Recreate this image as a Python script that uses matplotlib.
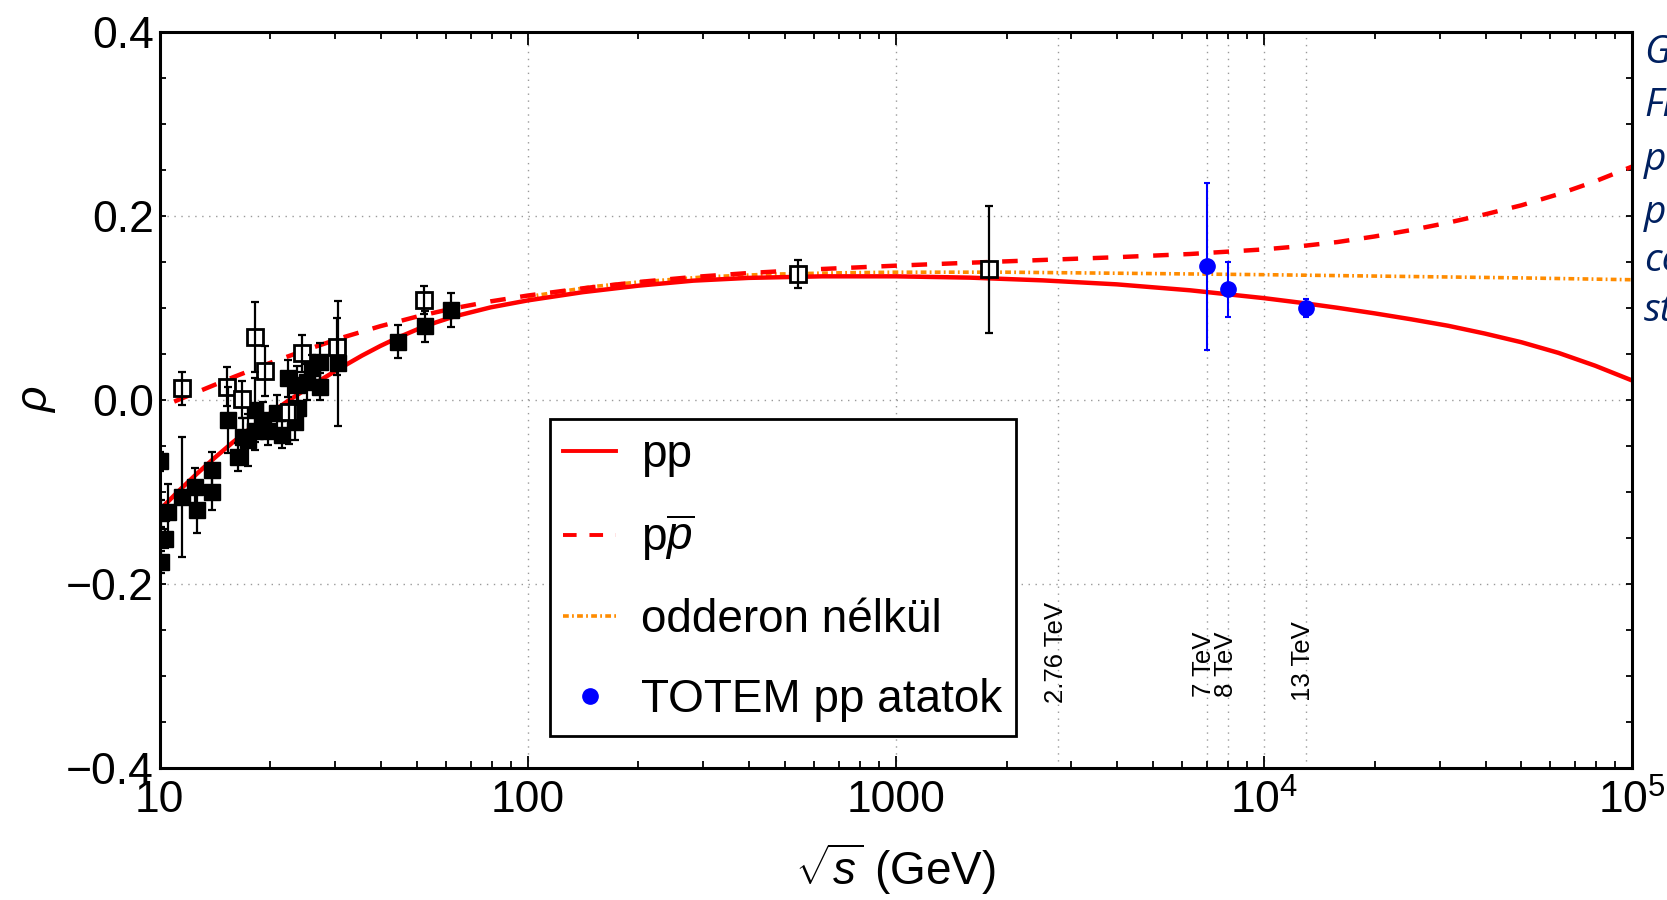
import matplotlib
matplotlib.use("Agg")
import matplotlib.pyplot as plt
from matplotlib.ticker import FixedLocator, FixedFormatter, MultipleLocator
from matplotlib.lines import Line2D

plt.rcParams['font.family'] = ['Liberation Sans', 'DejaVu Sans']
plt.rcParams['mathtext.fontset'] = 'custom'
plt.rcParams['mathtext.rm'] = 'Liberation Sans'
plt.rcParams['mathtext.it'] = 'Liberation Sans:italic'
plt.rcParams['mathtext.bf'] = 'Liberation Sans:bold'

# ---- model curves (sqrt(s) in GeV, rho) ----
pp_x = [10, 11.22, 12.59, 14.13, 15.85, 17.78, 19.95, 22.39, 25.12, 28.18, 31.62, 35.48,
        39.81, 44.67, 50.12, 56.23, 63.1, 79.43, 100, 141.3, 199.5, 281.8, 398.1, 631,
        1000, 1585, 2512, 3981, 6310, 10000, 12590, 15850, 19950, 25120, 31620, 39810,
        50120, 63100, 79430, 100000]
pp_y = [-0.120, -0.100, -0.081, -0.063, -0.046, -0.030, -0.015, -0.001, 0.012, 0.0245,
        0.0365, 0.048, 0.0585, 0.068, 0.0765, 0.084, 0.0905, 0.1005, 0.108, 0.117, 0.124,
        0.1295, 0.1325, 0.1342, 0.1342, 0.1328, 0.1298, 0.1255, 0.119, 0.1105, 0.1055,
        0.100, 0.094, 0.0875, 0.0805, 0.072, 0.0625, 0.051, 0.037, 0.021]

pbar_x = [10.96, 12.59, 15.85, 19.95, 25.12, 31.62, 39.81, 50.12, 63.1, 79.43, 100, 141.3,
          199.5, 281.8, 398.1, 631, 1000, 1585, 2512, 3981, 6310, 10000, 12590, 15850,
          19950, 25120, 31620, 39810, 50120, 63100, 79430, 100000]
pbar_y = [-0.002, 0.008, 0.0245, 0.040, 0.0545, 0.068, 0.080, 0.0905, 0.0995, 0.107,
          0.1133, 0.1212, 0.128, 0.1335, 0.1378, 0.1422, 0.1458, 0.149, 0.152, 0.155,
          0.1585, 0.1635, 0.167, 0.1715, 0.1775, 0.1845, 0.1925, 0.2015, 0.2115, 0.2235,
          0.2375, 0.2535]

nood_x = [100, 120, 150, 200, 300, 450, 700, 1000, 2000, 5000, 10000, 20000, 50000, 100000]
nood_y = [0.112, 0.117, 0.123, 0.128, 0.1335, 0.1365, 0.138, 0.1387, 0.1387, 0.1372,
          0.1360, 0.1345, 0.1325, 0.1305]

# ---- measured data ----
pp_dx = [10.0, 10.1, 10.35, 10.1, 10.57, 11.49, 12.48, 12.62, 13.86, 13.86, 15.38, 16.37,
         16.89, 17.43, 18.17, 18.17, 19.12, 19.72, 20.8, 21.48, 22.38, 23.33, 23.58, 23.8,
         25.1, 25.9, 27.3, 27.3, 30.6, 44.55, 52.6, 62.1]
pp_dy = [-0.067, -0.1235, -0.151, -0.176, -0.122, -0.1055, -0.0945, -0.120, -0.0764, -0.100,
         -0.022, -0.062, -0.040, -0.044, -0.011, -0.0345, -0.022, -0.0345, -0.0146, -0.038,
         0.0235, -0.0237, 0.0164, -0.0093, 0.0193, 0.034, 0.0414, 0.0142, 0.0395, 0.063,
         0.080, 0.0976]
pp_de = [0.010, 0.015, 0.010, 0.012, 0.030, 0.065, 0.020, 0.025, 0.020, 0.020, 0.036, 0.015,
         0.020, 0.028, 0.035, 0.020, 0.020, 0.015, 0.020, 0.015, 0.020, 0.020, 0.020, 0.020,
         0.020, 0.015, 0.020, 0.015, 0.068, 0.018, 0.017, 0.019]

pb_dx = [11.53, 15.28, 16.72, 18.17, 19.35, 22.52, 24.34, 30.4, 52.4, 541, 1795]
pb_dy = [0.0124, 0.0142, 0.0005, 0.0686, 0.0316, -0.013, 0.0505, 0.0577, 0.1085, 0.1367, 0.142]
pb_de = [0.018, 0.021, 0.020, 0.038, 0.027, 0.035, 0.020, 0.031, 0.015, 0.015, 0.069]

totem_x = [7000, 8000, 13000]
totem_y = [0.145, 0.12, 0.10]
totem_e = [0.091, 0.03, 0.01]

energy_lines = [2760, 7000, 8000, 13000]
energy_labels = ['2.76 TeV', '7 TeV', '8 TeV', '13 TeV']
energy_label_y = [-0.330, -0.323, -0.323, -0.328]

xticks = [10, 100, 1000, 10000, 100000]
xticklabels = ['10', '100', '1000', r'$10^{4}$', r'$10^{5}$']
yticks = [-0.4, -0.2, 0.0, 0.2, 0.4]
yticklabels = ['\u22120.4', '\u22120.2', '0.0', '0.2', '0.4']

side_text = ['G', 'Fr', 'p', 'p', 'co', 'st']
side_base = [63, 116, 170, 223, 271, 321]

W, H = 1667, 900
fig = plt.figure(figsize=(W / 100, H / 100), dpi=100)
L, R, T, B = 159.5, 1632, 31.9, 767.6
ax = fig.add_axes([L / W, 1 - B / H, (R - L) / W, (B - T) / H])
ax.set_xscale('log')
ax.set_xlim(10, 1e5)
ax.set_ylim(-0.4, 0.4)

grid_kw = dict(color='#9a9a9a', lw=1.0, ls=(0, (1, 4)), zorder=0.5)
for gx in [100, 1000, 10000] + energy_lines:
    ax.axvline(gx, **grid_kw)
for gy in [-0.2, 0.0, 0.2]:
    ax.axhline(gy, **grid_kw)

DASH = (3.5, 3.3)
DASHDOT = (1.6, 0.9, 0.5, 0.9)
ax.plot(pp_x, pp_y, color='#ff0000', lw=3.2, zorder=2)
ax.plot(pbar_x, pbar_y, color='#ff0000', lw=3.2, dashes=DASH, zorder=2)
ax.plot(nood_x, nood_y, color='#ff8c00', lw=2.6, dashes=DASHDOT, zorder=1.9)

# data
ax.plot(pp_dx, pp_dy, ls='none', marker='s', ms=11, mfc='black', mec='black', zorder=3)
ax.errorbar(pp_dx, pp_dy, yerr=pp_de, fmt='none', ecolor='black', elinewidth=1.6,
            capsize=3, capthick=1.6, zorder=3.1)
ax.plot(pb_dx, pb_dy, ls='none', marker='s', ms=11, mfc='white', mec='black', mew=2,
        zorder=3)
ax.errorbar(pb_dx, pb_dy, yerr=pb_de, fmt='none', ecolor='black', elinewidth=1.6,
            capsize=3, capthick=1.6, zorder=3.1)
ax.errorbar(totem_x, totem_y, yerr=totem_e, fmt='none', ecolor='#0000ff', elinewidth=1.5,
            capsize=2.5, capthick=1.5, zorder=3.2)
ax.plot(totem_x, totem_y, ls='none', marker='o', ms=11, mfc='#0000ff', mec='#0000ff',
        zorder=3.3)

for ex, lab, ly in zip(energy_lines, energy_labels, energy_label_y):
    ax.text(ex * 0.985, ly, lab, rotation=90, ha='center', va='bottom', fontsize=18.5,
            color='black', zorder=4)

# ticks
ax.xaxis.set_major_locator(FixedLocator(xticks))
ax.xaxis.set_major_formatter(FixedFormatter(xticklabels))
ax.yaxis.set_major_locator(FixedLocator(yticks))
ax.yaxis.set_major_formatter(FixedFormatter(yticklabels))
ax.yaxis.set_minor_locator(MultipleLocator(0.05))
ax.tick_params(axis='x', which='both', direction='in', top=True, bottom=True,
               labelsize=32, pad=9, width=1.3)
ax.tick_params(axis='x', which='major', length=9)
ax.tick_params(axis='x', which='minor', length=5)
ax.tick_params(axis='y', which='both', direction='in', left=True, right=True,
               labelsize=32, pad=4, width=1.3, length=4)
for sp in ax.spines.values():
    sp.set_linewidth(2.2)

ax.set_xlabel(r'$\sqrt{s}$ (GeV)', fontsize=33, labelpad=13)
fig.text(37 / W, 1 - 399 / H, r'$\rho$', rotation=90, fontsize=32, ha='center', va='center')

# legend
handles = [
    Line2D([], [], color='#ff0000', lw=2.8),
    Line2D([], [], color='#ff0000', lw=2.8, dashes=DASH),
    Line2D([], [], color='#ff8c00', lw=2.6, dashes=DASHDOT),
    Line2D([], [], ls='none', marker='o', ms=11, mfc='#0000ff', mec='#0000ff'),
]
labels = ['pp', r'p$\overline{p}$', 'odderon nélkül', 'TOTEM pp atatok']
leg = ax.legend(handles, labels, loc='upper left', bbox_to_anchor=(0.265, 0.474),
                borderaxespad=0, fontsize=33, frameon=True, fancybox=False,
                edgecolor='black', framealpha=1, borderpad=0.3, labelspacing=0.78,
                handlelength=1.15, handletextpad=0.55)
leg.get_frame().set_linewidth(2)

for t, yb in zip(side_text, side_base):
    fig.text(1644 / W, 1 - yb / H, t, fontsize=28, family='Open Sans', style='italic',
             color='#002060', ha='left', va='baseline')

fig.savefig('out.png', dpi=100)
